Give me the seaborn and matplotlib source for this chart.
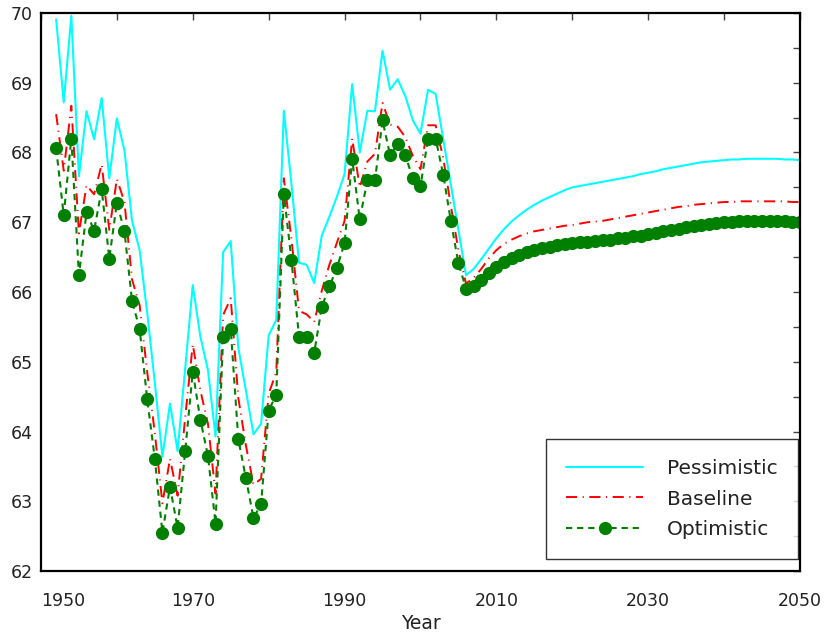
import matplotlib
matplotlib.use("Agg")
import matplotlib.pyplot as plt
from matplotlib.ticker import MultipleLocator
import seaborn as sns

years = list(range(1952, 2051))

pessimistic = [
    69.91, 68.72, 69.96, 67.66, 68.59, 68.19, 68.78, 67.63, 68.49, 68.03,
    67.02, 66.60, 65.70, 64.70, 63.64, 64.40, 63.72, 64.90, 66.10, 65.36,
    64.88, 63.93, 66.57, 66.73, 65.20, 64.59, 63.96, 64.11, 65.38, 65.60,
    68.60, 67.55, 66.42, 66.39, 66.13, 66.81, 67.08, 67.37, 67.69, 68.98,
    68.00, 68.60, 68.59, 69.46, 68.90, 69.05, 68.81, 68.46, 68.27, 68.90,
    68.84, 68.19, 67.54, 66.89, 66.24, 66.33, 66.47, 66.62, 66.77, 66.90,
    67.01, 67.10, 67.18, 67.25, 67.31, 67.36, 67.41, 67.46, 67.50, 67.52,
    67.54, 67.56, 67.58, 67.60, 67.62, 67.64, 67.66, 67.69, 67.71, 67.73,
    67.76, 67.78, 67.80, 67.82, 67.84, 67.86, 67.87, 67.88, 67.89, 67.90,
    67.90, 67.91, 67.91, 67.91, 67.91, 67.91, 67.90, 67.90, 67.89,
]

baseline = [
    68.55, 67.74, 68.67, 66.84, 67.53, 67.40, 67.83, 66.89, 67.62, 67.29,
    66.18, 65.81, 64.85, 63.98, 62.97, 63.61, 63.08, 64.20, 65.25, 64.59,
    64.11, 63.11, 65.67, 65.91, 64.48, 63.80, 63.24, 63.32, 64.54, 64.85,
    67.63, 66.76, 65.73, 65.68, 65.57, 66.02, 66.39, 66.71, 67.02, 68.20,
    67.50, 67.87, 67.98, 68.71, 68.40, 68.37, 68.22, 67.95, 67.76, 68.39,
    68.39, 67.92, 67.24, 66.60, 66.12, 66.20, 66.33, 66.48, 66.60, 66.69,
    66.75, 66.80, 66.84, 66.87, 66.89, 66.91, 66.93, 66.95, 66.96, 66.98,
    67.00, 67.01, 67.02, 67.04, 67.06, 67.08, 67.10, 67.12, 67.14, 67.16,
    67.18, 67.20, 67.22, 67.23, 67.25, 67.26, 67.27, 67.28, 67.29, 67.29,
    67.30, 67.30, 67.30, 67.30, 67.30, 67.30, 67.30, 67.29, 67.29,
]

optimistic = [
    68.06, 67.10, 68.20, 66.24, 67.14, 66.88, 67.47, 66.48, 67.28, 66.87,
    65.87, 65.47, 64.46, 63.61, 62.55, 63.21, 62.62, 63.72, 64.86, 64.17,
    63.65, 62.68, 65.35, 65.47, 63.89, 63.33, 62.76, 62.96, 64.30, 64.53,
    67.41, 66.46, 65.36, 65.35, 65.13, 65.79, 66.08, 66.35, 66.70, 67.91,
    67.04, 67.60, 67.60, 68.46, 67.96, 68.12, 67.96, 67.63, 67.52, 68.20,
    68.20, 67.68, 67.02, 66.41, 66.05, 66.08, 66.17, 66.27, 66.36, 66.43,
    66.49, 66.53, 66.57, 66.60, 66.63, 66.65, 66.68, 66.69, 66.70, 66.71,
    66.72, 66.73, 66.74, 66.75, 66.77, 66.78, 66.80, 66.81, 66.83, 66.85,
    66.87, 66.89, 66.91, 66.93, 66.95, 66.96, 66.98, 66.99, 67.00, 67.01,
    67.02, 67.02, 67.02, 67.02, 67.02, 67.02, 67.02, 67.01, 67.01,
]

sns.set_style("white")
plt.rcParams["font.family"] = ["DejaVu Sans"]
plt.rcParams["lines.scale_dashes"] = False

fig, ax = plt.subplots(figsize=(8.26, 6.37), dpi=100)
fig.subplots_adjust(left=0.0496, right=0.9685, top=0.9796, bottom=0.1036)

sns.lineplot(x=years, y=pessimistic, ax=ax, color="#00ffff", lw=1.5,
             label="Pessimistic")
sns.lineplot(x=years, y=baseline, ax=ax, color="#ff0000", lw=1.4,
             linestyle=(0, (8, 4, 0.8, 4)), label="Baseline")
sns.lineplot(x=years, y=optimistic, ax=ax, color="#008000", lw=1.5,
             linestyle=(0, (4.5, 3.5)), marker="o", markersize=9.5,
             markeredgewidth=0, label="Optimistic")

ax.set_xlim(1950, 2050)
ax.set_ylim(62, 70)
ax.set_xticks(range(1950, 2051, 20))
ax.xaxis.set_minor_locator(MultipleLocator(10))
ax.yaxis.set_major_locator(MultipleLocator(1))
ax.yaxis.set_minor_locator(MultipleLocator(0.5))
ax.tick_params(which="both", direction="in", length=5, width=1,
               color="#444444", top=True, right=True,
               labelsize=12.5, labelcolor="#222222")
ax.tick_params(axis="x", pad=15)
ax.tick_params(axis="y", pad=6)
ax.get_xticklabels()[0].set_horizontalalignment("left")
for s in ax.spines.values():
    s.set_linewidth(1.6)
    s.set_color("black")

ax.set_xlabel("Year", fontsize=13.5, color="#222222", labelpad=3)
ax.set_ylabel("")

leg = ax.legend(loc="lower right", bbox_to_anchor=(0.997, 0.022),
                fontsize=14.5, frameon=True, fancybox=False,
                edgecolor="black", handlelength=3.8, handletextpad=1.2,
                borderpad=1.0, labelspacing=0.55, borderaxespad=0)
leg.get_frame().set_linewidth(1.0)
for t in leg.get_texts():
    t.set_color("#222222")

fig.savefig("out.png", dpi=100)
